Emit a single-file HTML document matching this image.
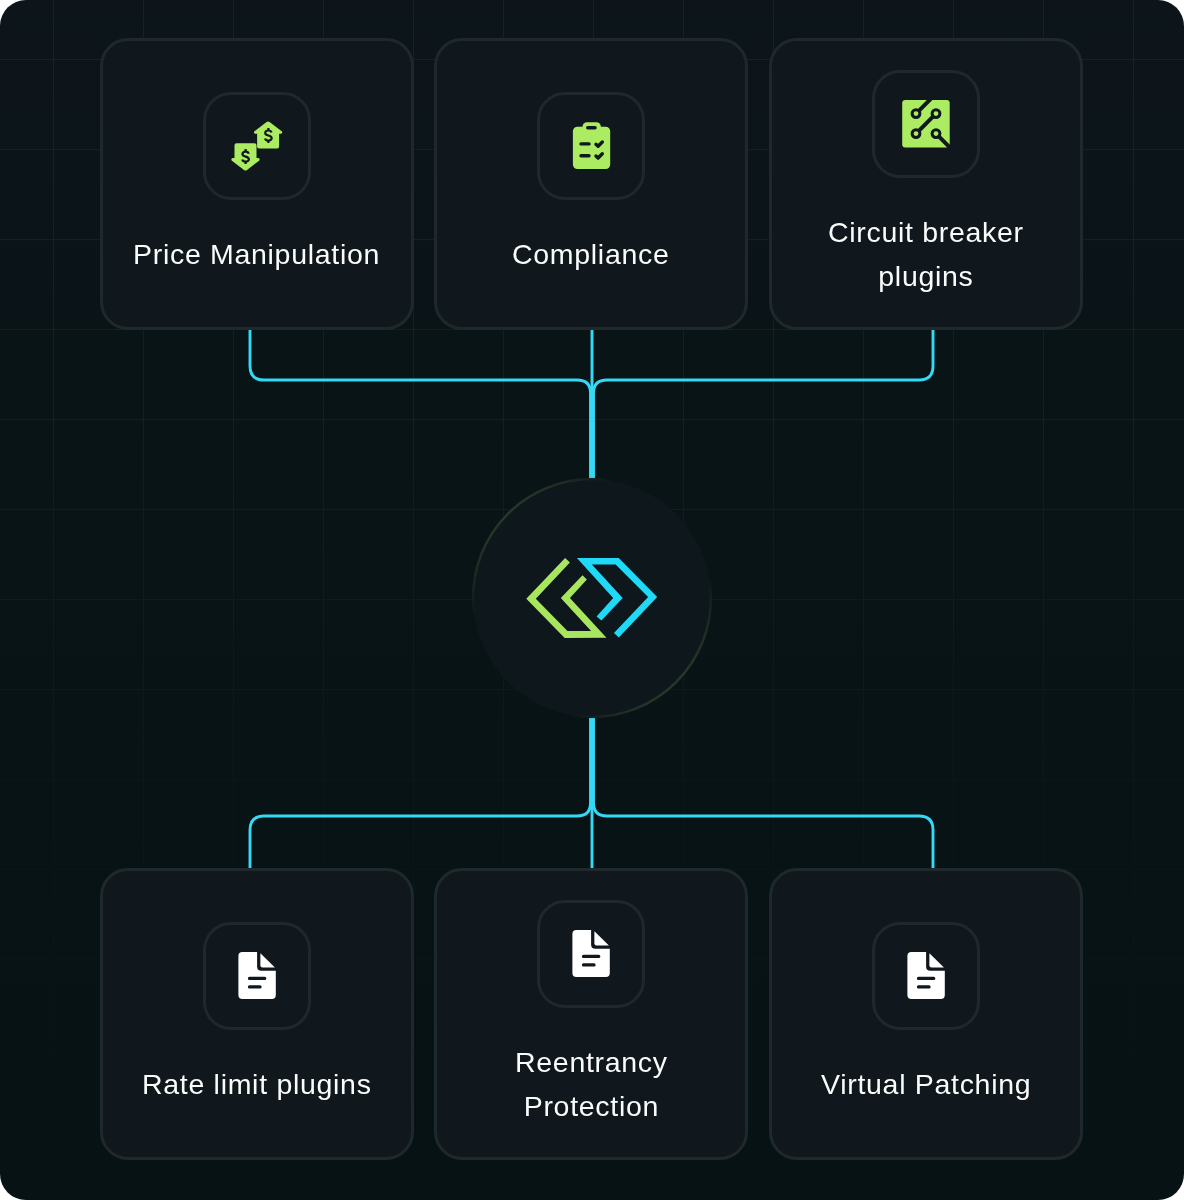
<!DOCTYPE html>
<html><head><meta charset="utf-8">
<style>
html,body{margin:0;padding:0;background:#ffffff;}
body{width:1184px;height:1200px;overflow:hidden;position:relative;font-family:"Liberation Sans",sans-serif;}
#wrap{position:absolute;left:0;top:0;width:1184px;height:1200px;border-radius:26px;overflow:hidden;
 background:linear-gradient(180deg,#0d151a 0%,#0a1418 25%,#091416 45%,#081315 65%,#071214 100%);}
#grid{position:absolute;left:0;top:0;width:1184px;height:1200px;}
.card{position:absolute;width:314px;height:292px;box-sizing:border-box;border:3px solid #1f292c;border-radius:28px;
 background:#10181d;display:flex;flex-direction:column;align-items:center;justify-content:center;}
.ibox{width:108px;height:108px;box-sizing:border-box;border:3px solid #1f292c;border-radius:28px;position:relative;flex:none;}
.ibox svg{position:absolute;left:0;top:0;}
.t{margin-top:32px;color:#fafbfb;font-size:28.5px;line-height:44px;letter-spacing:0.7px;position:relative;top:0px;will-change:transform;text-align:center;white-space:nowrap;}
#lines{position:absolute;left:0;top:0;}

</style></head>
<body>
<div id="wrap">
<svg id="grid" width="1184" height="1200">
 <defs>
  <linearGradient id="gfade" x1="0" y1="0" x2="0" y2="1">
   <stop offset="0" stop-color="#fff" stop-opacity="0.85"/>
   <stop offset="0.35" stop-color="#fff" stop-opacity="0.7"/>
   <stop offset="0.55" stop-color="#fff" stop-opacity="0.4"/>
   <stop offset="0.75" stop-color="#fff" stop-opacity="0.18"/>
   <stop offset="1" stop-color="#fff" stop-opacity="0"/>
  </linearGradient>
  <mask id="gm"><rect width="1184" height="1200" fill="url(#gfade)"/></mask>
  <pattern id="gp" x="53" y="59" width="90" height="90" patternUnits="userSpaceOnUse">
   <rect x="0" y="0" width="1" height="90" fill="#1a2427"/>
   <rect x="0" y="0" width="90" height="1" fill="#1a2427"/>
  </pattern>
 </defs>
 <rect width="1184" height="1200" fill="url(#gp)" mask="url(#gm)"/>
</svg>

<svg id="lines" width="1184" height="1200">
 <g fill="none" stroke="#34d9f4" stroke-width="2.9">
  <path d="M250 330 V366 Q250 380 264 380 H577 Q590.5 380 590.5 393 V478"/>
  <path d="M933 330 V366 Q933 380 919 380 H607 Q593.5 380 593.5 393 V478"/>
  <path d="M592 330 V478"/>
  <path d="M250 868 V830 Q250 816 264 816 H577 Q590.5 816 590.5 803 V718"/>
  <path d="M933 868 V830 Q933 816 919 816 H607 Q593.5 816 593.5 803 V718"/>
  <path d="M592 868 V718"/>
 </g>
</svg>

<svg id="hub" width="1184" height="1200" style="position:absolute;left:0;top:0">
 <defs>
  <linearGradient id="hubg" x1="0" y1="0" x2="1" y2="1">
   <stop offset="0" stop-color="#2b392b" stop-opacity="1"/>
   <stop offset="0.13" stop-color="#2b392b" stop-opacity="1"/>
   <stop offset="0.30" stop-color="#2b392b" stop-opacity="0"/>
   <stop offset="0.70" stop-color="#2b392b" stop-opacity="0"/>
   <stop offset="0.87" stop-color="#2b392b" stop-opacity="1"/>
   <stop offset="1" stop-color="#2b392b" stop-opacity="1"/>
  </linearGradient>
 </defs>
 <circle cx="592" cy="598" r="119" fill="#0e171c" stroke="url(#hubg)" stroke-width="2.4"/>
</svg>

<!-- top cards -->
<div class="card" style="left:100px;top:38px;">
 <div class="ibox"></div>
 <div class="t">Price Manipulation</div>
</div>
<div class="card" style="left:434px;top:38px;">
 <div class="ibox"></div>
 <div class="t">Compliance</div>
</div>
<div class="card" style="left:769px;top:38px;">
 <div class="ibox"></div>
 <div class="t">Circuit breaker<br>plugins</div>
</div>

<!-- bottom cards -->
<div class="card" style="left:100px;top:868px;">
 <div class="ibox"></div>
 <div class="t">Rate limit plugins</div>
</div>
<div class="card" style="left:434px;top:868px;">
 <div class="ibox"></div>
 <div class="t">Reentrancy<br>Protection</div>
</div>
<div class="card" style="left:769px;top:868px;">
 <div class="ibox"></div>
 <div class="t">Virtual Patching</div>
</div>

<svg id="icons" style="position:absolute;left:0;top:0" width="1184" height="1200">
<!-- price manipulation -->
<g fill="#abec62">
<path transform="translate(268.1 120.9)" d="M-11 25.7 V12.9 H-12.3 Q-14.8 12.9 -13.9 10.6 L-1.5 1.05 Q0 0 1.5 1.05 L13.9 10.6 Q14.8 12.9 12.3 12.9 H11 V25.7 Q11 27.7 9 27.7 H-9 Q-11 27.7 -11 25.7 Z"/>
<path transform="translate(245.5 171) scale(1 -1)" d="M-11 25.7 V12.9 H-12.3 Q-14.8 12.9 -13.9 10.6 L-1.5 1.05 Q0 0 1.5 1.05 L13.9 10.6 Q14.8 12.9 12.3 12.9 H11 V25.7 Q11 27.7 9 27.7 H-9 Q-11 27.7 -11 25.7 Z"/>
</g>
<g transform="translate(268.4 135.5)" fill="none" stroke="#10181e" stroke-width="2.2" stroke-linecap="butt">
<path d="M3.1 -2.9 C2.8 -4.3 1.7 -5 0 -5 C-2 -5 -3.2 -4 -3.2 -2.6 C-3.2 -0.9 -1.7 -0.4 0 0 C1.8 0.4 3.3 0.9 3.3 2.6 C3.3 4 2 5 0 5 C-1.8 5 -3 4.3 -3.3 2.9"/>
<path d="M0 -5 V-7.5 M0 5 V7.5"/></g>
<g transform="translate(245.6 156.6)" fill="none" stroke="#10181e" stroke-width="2.2" stroke-linecap="butt">
<path d="M3.1 -2.9 C2.8 -4.3 1.7 -5 0 -5 C-2 -5 -3.2 -4 -3.2 -2.6 C-3.2 -0.9 -1.7 -0.4 0 0 C1.8 0.4 3.3 0.9 3.3 2.6 C3.3 4 2 5 0 5 C-1.8 5 -3 4.3 -3.3 2.9"/>
<path d="M0 -5 V-7.5 M0 5 V7.5"/></g>
<!-- compliance -->
<g fill="#abec62">
<rect x="572.9" y="126.8" width="37.3" height="42.3" rx="4.5"/>
<rect x="582.5" y="122.2" width="18.4" height="12" rx="4.5"/>
</g>
<rect x="586" y="126" width="10.8" height="3.6" rx="1.8" fill="#10181e"/>
<g fill="none" stroke="#10181e" stroke-width="3.4" stroke-linecap="round" stroke-linejoin="round">
<path d="M581 143.9 H589"/><path d="M596 144.2 L598.1 146.2 L602.3 142"/>
<path d="M581 155.7 H589"/><path d="M596 156 L598.1 158 L602.3 153.8"/>
</g>
<!-- circuit -->
<rect x="902.2" y="99.9" width="47.5" height="47.5" rx="3.2" fill="#abec62"/>
<g fill="none" stroke="#10181e" stroke-width="3">
<circle cx="916" cy="113.6" r="3.9"/><circle cx="936" cy="113.6" r="3.9"/>
<circle cx="916" cy="133.6" r="3.9"/><circle cx="936" cy="133.6" r="3.9"/>
</g>
<g fill="none" stroke="#10181e" stroke-width="4">
<path d="M918.8 110.8 L932 97.6"/><path d="M933.2 116.4 L918.8 130.8"/><path d="M938.8 136.4 L952 149.6"/>
</g>
<g transform="translate(257 976)">
<path fill="#ffffff" d="M-14.6 -24 H0.1 V-9.6 Q0.1 -5.3 4.4 -5.3 H18.8 V19 Q18.8 23 14.8 23 H-14.6 Q-18.6 23 -18.6 19 V-20 Q-18.6 -24 -14.6 -24 Z"/>
<path fill="#ffffff" d="M3.4 -22.8 L17.9 -8.6 H5.6 Q3.4 -8.6 3.4 -10.8 Z"/>
<path fill="none" stroke="#10181e" stroke-width="3.3" stroke-linecap="round" d="M-7.5 2.4 H7.7 M-7.5 10.9 H3"/>
</g>
<g transform="translate(591 954)">
<path fill="#ffffff" d="M-14.6 -24 H0.1 V-9.6 Q0.1 -5.3 4.4 -5.3 H18.8 V19 Q18.8 23 14.8 23 H-14.6 Q-18.6 23 -18.6 19 V-20 Q-18.6 -24 -14.6 -24 Z"/>
<path fill="#ffffff" d="M3.4 -22.8 L17.9 -8.6 H5.6 Q3.4 -8.6 3.4 -10.8 Z"/>
<path fill="none" stroke="#10181e" stroke-width="3.3" stroke-linecap="round" d="M-7.5 2.4 H7.7 M-7.5 10.9 H3"/>
</g>
<g transform="translate(926 976)">
<path fill="#ffffff" d="M-14.6 -24 H0.1 V-9.6 Q0.1 -5.3 4.4 -5.3 H18.8 V19 Q18.8 23 14.8 23 H-14.6 Q-18.6 23 -18.6 19 V-20 Q-18.6 -24 -14.6 -24 Z"/>
<path fill="#ffffff" d="M3.4 -22.8 L17.9 -8.6 H5.6 Q3.4 -8.6 3.4 -10.8 Z"/>
<path fill="none" stroke="#10181e" stroke-width="3.3" stroke-linecap="round" d="M-7.5 2.4 H7.7 M-7.5 10.9 H3"/>
</g>
<!-- logo -->
<polygon fill="#a9e65f" points="565.1,557.9 569.9,562.5 535.8,598.7 567.5,630.9 591.1,630.9 560.8,597.9 582.5,575.2 586.9,579.4 569.9,597.9 606.5,637.7 564.7,637.9 526.3,598.7"/>
<polygon fill="#1fd9f7" points="576.9,558.0 618.8,558.0 657.2,597.0 618.8,637.5 614.0,633.1 648.1,597.0 615.6,564.6 591.9,564.6 622.7,597.9 601.4,620.5 596.6,616.5 613.2,597.9"/>
</svg>
</div>
</body></html>
